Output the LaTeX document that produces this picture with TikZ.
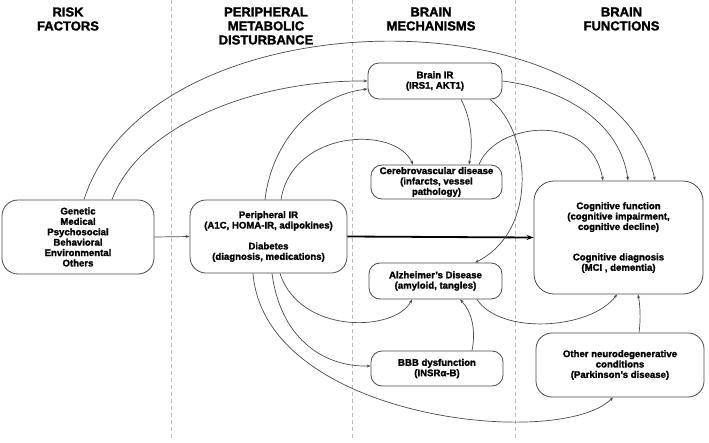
\documentclass[tikz,border=0pt]{standalone}
\usepackage{fontspec}
\setmainfont{Liberation Sans}[BoldFeatures={FakeBold=1.6}]
\usetikzlibrary{arrows.meta}
\definecolor{linegray}{HTML}{4A4A4A}
\definecolor{dashgray}{HTML}{BBBBBB}
\begin{document}
\begin{tikzpicture}[x=1pt,y=-1pt,
  box/.style={draw=linegray,line width=0.8pt,rounded corners=11pt,align=center,
    font=\fontsize{9.6}{10.4}\selectfont\bfseries,inner sep=0pt},
  bigbox/.style={box,rounded corners=16pt},
  head/.style={align=center,font=\fontsize{13}{14}\selectfont\bfseries,inner sep=0pt},
  conn/.style={draw=linegray,line width=0.7pt,-{Stealth[length=4pt,width=3pt]}},
  sep/.style={draw=dashgray,line width=0.8pt,dash pattern=on 4pt off 3pt}]
\useasboundingbox (0,0) rectangle (709,442);

% separators
\draw[sep] (171,0) -- (171,440);
\draw[sep] (352,0) -- (352,440);
\draw[sep] (515,0) -- (515,440);

% headers
\node[head] (h1) at (68,19) {RISK\\FACTORS};
\node[head] (h2) at (266,26) {PERIPHERAL\\METABOLIC\\DISTURBANCE};
\node[head] (h3) at (431,19) {BRAIN\\MECHANISMS};
\node[head] (h4) at (621.5,19) {BRAIN\\FUNCTIONS};

% nodes
\node[bigbox,minimum width=152pt,minimum height=74pt] (risk) at (78,237)
  {Genetic\\Medical\\Psychosocial\\Behavioral\\Environmental\\Others};
\node[bigbox,minimum width=157pt,minimum height=73pt] (per) at (268.5,236.5)
  {Peripheral IR\\(A1C, HOMA-IR, adipokines)\\[10.5pt]Diabetes\\(diagnosis, medications)};
\node[box,minimum width=134pt,minimum height=36pt] (bir) at (435,81)
  {Brain IR\\(IRS1, AKT1)};
\node[box,minimum width=131pt,minimum height=34pt] (cvd) at (436.5,182)
  {Cerebrovascular disease\\(infarcts, vessel\\pathology)};
\node[box,minimum width=133pt,minimum height=36pt] (ad) at (435.5,281)
  {Alzheimer's Disease\\(amyloid, tangles)};
\node[box,minimum width=132pt,minimum height=35pt] (bbb) at (437,368.5)
  {BBB dysfunction\\(INSRα-B)};
\node[bigbox,minimum width=169pt,minimum height=113pt,rounded corners=20pt] (cog) at (618.5,237.5)
  {Cognitive function\\(cognitive impairment,\\cognitive decline)\\[20pt]Cognitive diagnosis\\(MCI , dementia)};
\node[bigbox,minimum width=168pt,minimum height=64pt] (ond) at (620,365)
  {Other neurodegenerative\\conditions\\(Parkinson's disease)};

% straight connectors
\draw[conn] (risk.east) -- (per.west);
\draw[draw=black,line width=1.8pt,-{Stealth[length=7pt,width=5pt]}] (per.east) -- (cog.west);

% curved connectors from risk factors
\draw[conn] ([xshift=6pt]risk.north) .. controls (150,-8) and (615,-8) .. ([xshift=36.5pt]cog.north);
\draw[conn] ([xshift=34pt]risk.north) .. controls (140,125) and (255,80) .. ([yshift=0pt]bir.west);

% from peripheral top
\draw[conn] ([xshift=-3.5pt]per.north) .. controls (272,140) and (315,95) .. ([yshift=-8pt]bir.west);
\draw[conn] ([xshift=12.5pt]per.north) .. controls (292,130) and (395,125) .. ([xshift=-23.5pt]cvd.north);

% from peripheral bottom
\draw[conn] ([xshift=11.5pt]per.south) .. controls (300,335) and (395,332) .. ([xshift=-23.5pt]ad.south);
\draw[conn] ([xshift=3.5pt]per.south) .. controls (280,335) and (320,367) .. ([yshift=2.5pt]bbb.west);
\draw[conn] ([xshift=-15.5pt]per.south) .. controls (265,420) and (560,450) .. ([xshift=-7pt]ond.south);

% from brain IR
\draw[conn] ([xshift=26pt]bir.south) .. controls (472,120) and (473,145) .. ([xshift=32.5pt]cvd.north);
\draw[conn] ([xshift=55pt]bir.south) .. controls (530,130) and (540,230) .. ([xshift=39.5pt]ad.north);
\draw[conn] (bir.east) .. controls (560,88) and (620,120) .. ([xshift=9.5pt]cog.north);

% from cerebrovascular
\draw[conn] ([xshift=42.5pt]cvd.north) .. controls (495,123) and (590,110) .. ([xshift=-15.5pt]cog.north);

% BBB to AD
\draw[conn] ([xshift=35pt]bbb.north) .. controls (476,330) and (472,312) .. ([xshift=24.5pt]ad.south);

% AD to cognitive
\draw[conn] ([xshift=41.5pt]ad.south) .. controls (500,335) and (590,330) .. ([xshift=-1.5pt]cog.south);

% other neuro to cognitive
\draw[conn] ([xshift=19pt]ond.north) .. controls (641,318) and (640,305) .. ([xshift=19.5pt]cog.south);
\end{tikzpicture}
\end{document}
